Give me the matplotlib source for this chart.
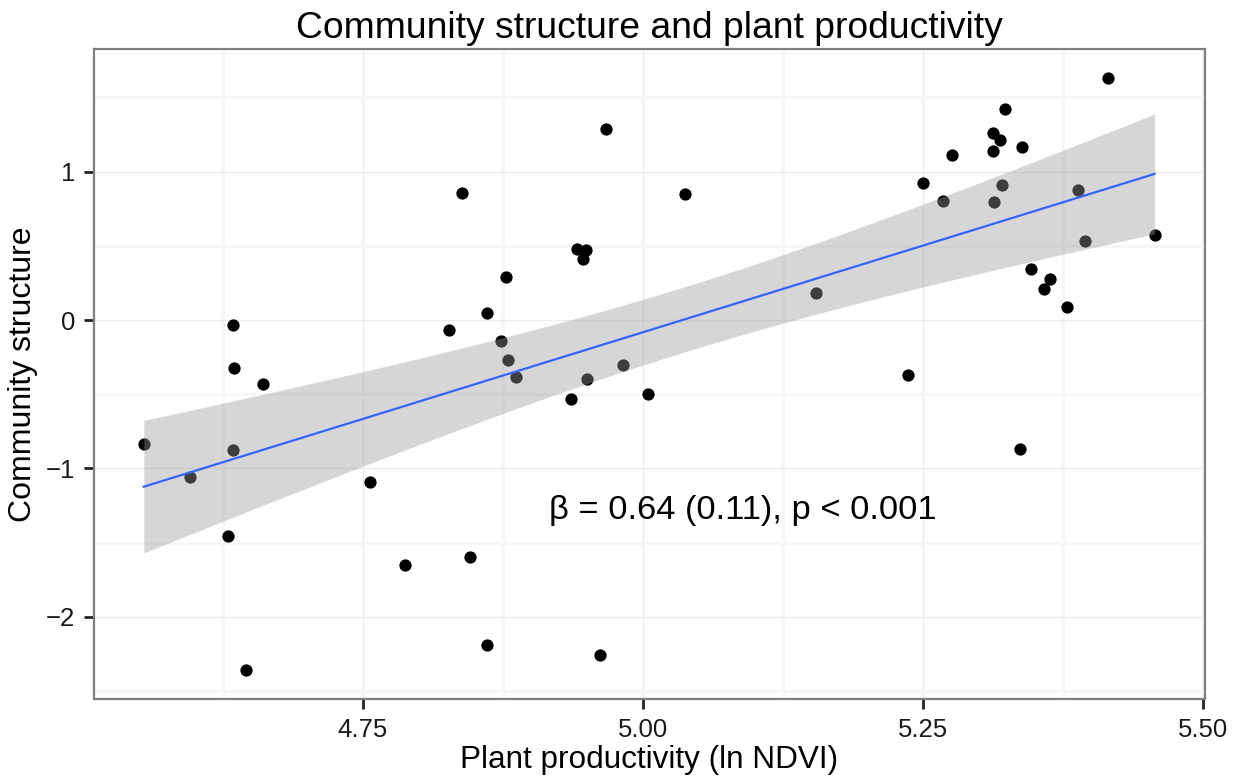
import numpy as np
import matplotlib
matplotlib.use("Agg")
import matplotlib.pyplot as plt
from matplotlib.ticker import MultipleLocator

plt.rcParams['font.family'] = ['Liberation Sans', 'DejaVu Sans']

# Data
ndvi = [4.5545, 4.596, 4.634, 4.635, 4.634, 4.630, 4.646, 4.661, 4.756, 4.7875,
        4.827, 4.839, 4.846, 4.861, 4.861, 4.873, 4.878, 4.880, 4.887, 4.936,
        4.941, 4.949, 4.947, 4.950, 4.962, 4.967, 4.982, 5.005, 5.0375, 5.155,
        5.237, 5.250, 5.268, 5.276, 5.3125, 5.319, 5.313, 5.323, 5.314, 5.321,
        5.339, 5.337, 5.347, 5.358, 5.364, 5.379, 5.389, 5.395, 5.415, 5.457]
community = [-0.835, -1.057, -0.034, -0.323, -0.875, -1.455, -2.357, -0.431, -1.091, -1.650,
             -0.067, 0.855, -1.596, 0.047, -2.189, -0.141, 0.290, -0.269, -0.384, -0.532,
             0.478, 0.471, 0.411, -0.397, -2.256, 1.286, -0.303, -0.498, 0.848, 0.182,
             -0.370, 0.923, 0.801, 1.111, 1.259, 1.212, 1.138, 1.421, 0.795, 0.909,
             1.165, -0.869, 0.343, 0.209, 0.276, 0.088, 0.875, 0.532, 1.630, 0.572]

title = "Community structure and plant productivity"
xlabel = "Plant productivity (ln NDVI)"
ylabel = "Community structure"
annotation = "\u03b2 = 0.64 (0.11), p < 0.001"
xticks = [4.75, 5.00, 5.25, 5.50]
xticklabels = ["4.75", "5.00", "5.25", "5.50"]
yticks = [-2, -1, 0, 1]
yticklabels = ["\u22122", "\u22121", "0", "1"]

x = np.array(ndvi)
y = np.array(community)

# Linear fit with 95% confidence band
n = len(x)
b1, b0 = np.polyfit(x, y, 1)
resid = y - (b0 + b1 * x)
s = np.sqrt(np.sum(resid ** 2) / (n - 2))
xm = x.mean()
sxx = np.sum((x - xm) ** 2)
xs = np.linspace(x.min(), x.max(), 200)
ys = b0 + b1 * xs
tval = 2.0106  # t(0.975, df=48)
se = s * np.sqrt(1.0 / n + (xs - xm) ** 2 / sxx)

fig = plt.figure(figsize=(12.42, 7.83), dpi=100)
ax = fig.add_axes([94 / 1242, 1 - 699 / 783, (1205 - 94) / 1242, (699 - 49) / 783])

ax.scatter(x, y, s=78, color='black', linewidths=0, zorder=3)
ax.fill_between(xs, ys - tval * se, ys + tval * se, color='#999999', alpha=0.4,
                linewidth=0, zorder=4)
ax.plot(xs, ys, color='#3366FF', linewidth=1.6, zorder=5)

ax.set_xlim(4.51, 5.502)
ax.set_ylim(-2.553, 1.826)

ax.set_xticks(xticks)
ax.set_xticklabels(xticklabels)
ax.set_yticks(yticks)
ax.set_yticklabels(yticklabels)
ax.xaxis.set_minor_locator(MultipleLocator(0.125))
ax.yaxis.set_minor_locator(MultipleLocator(0.5))

ax.grid(which='major', color='#EBEBEB', linewidth=1.0, zorder=0)
ax.grid(which='minor', color='#F6F6F6', linewidth=2.0, zorder=0)
ax.set_axisbelow(True)

ax.tick_params(which='major', direction='out', length=7.5, width=2, color='#222222',
               labelsize=18.5, labelcolor='#1A1A1A')
ax.tick_params(axis='x', which='major', pad=6.5)
ax.tick_params(axis='y', which='major', pad=6)
ax.tick_params(which='minor', length=0)

for sp in ax.spines.values():
    sp.set_color('#7F7F7F')
    sp.set_linewidth(1.6)

ax.set_title(title, fontsize=26.8, pad=8)
ax.set_xlabel(xlabel, fontsize=22.7, labelpad=2)
ax.set_ylabel(ylabel, fontsize=23, labelpad=6)

ax.text(4.916, -1.28, annotation, fontsize=24.8, ha='left', va='center', zorder=6)

fig.savefig("out.png", dpi=100)
